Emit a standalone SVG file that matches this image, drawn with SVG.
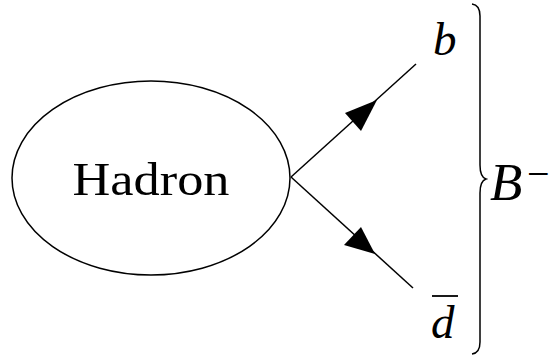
<svg xmlns="http://www.w3.org/2000/svg" width="557" height="358" viewBox="0 0 557 358">
<style>
.ln{stroke:#000;stroke-width:1.5;fill:none}
.t{font-family:"Liberation Serif","DejaVu Serif",serif;fill:#000}
.i{font-style:italic}
</style>
<rect width="557" height="358" fill="#fff"/>
<g id="hadron">
<ellipse cx="151" cy="178" rx="139" ry="97" class="ln"/>
<text x="151" y="195" class="t" font-size="47" text-anchor="middle" textLength="157" lengthAdjust="spacingAndGlyphs">Hadron</text>
</g>
<g id="connectors">
<line x1="291" y1="177" x2="416" y2="64" class="ln"/>
<line x1="291" y1="177" x2="413" y2="288" class="ln"/>
<polygon points="377,100 345,113 361,131" fill="#000"/>
<polygon points="375,254 344,245 361,227" fill="#000"/>
</g>
<g id="b">
<text x="433" y="55" class="t i" font-size="47">b</text>
</g>
<g id="dbar">
<text x="431" y="338" class="t i" font-size="47">d</text>
<line x1="432" y1="296" x2="458" y2="296" stroke="#000" stroke-width="1.8"/>
</g>
<g id="brace">
<path d="M472,4 Q480,5 480,16 L480,165 Q480,177 486,179 Q480,181 480,193 L480,342 Q480,353 472,354" class="ln"/>
</g>
<g id="Bminus">
<text x="490" y="200" class="t i" font-size="53">B</text>
<text x="527" y="187" class="t" font-size="40">−</text>
</g>
</svg>
